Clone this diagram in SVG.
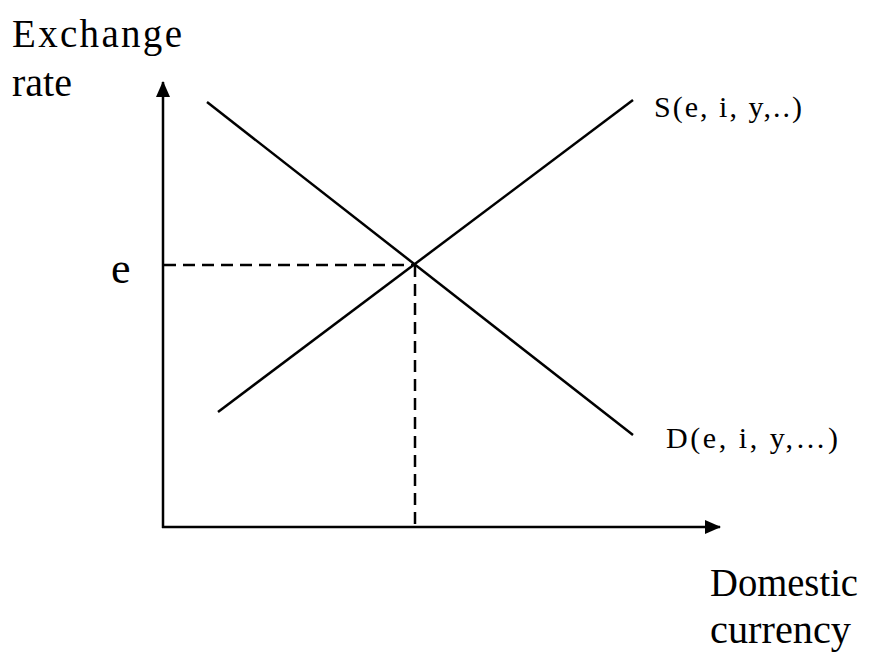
<svg xmlns="http://www.w3.org/2000/svg" width="878" height="662" viewBox="0 0 878 662">
<style>
.t{font-family:"Liberation Serif","Times New Roman",serif;fill:#000}
.ln{stroke:#000;stroke-width:2.5;fill:none}
.d{stroke:#000;stroke-width:2.5;fill:none;stroke-dasharray:12,7}
</style>
<defs>
<marker id="ah" markerWidth="16" markerHeight="14" refX="15" refY="7" orient="auto" markerUnits="userSpaceOnUse" viewBox="0 0 16 14">
<path d="M0,0 L16,7 L0,14 Z" fill="#000"/>
</marker>
</defs>
<rect width="878" height="662" fill="#fff"/>
<g id="connectors">
<line id="y-axis" class="ln" x1="163" y1="528" x2="163" y2="82" marker-end="url(#ah)"/>
<line id="x-axis" class="ln" x1="162" y1="527" x2="720" y2="527" marker-end="url(#ah)"/>
<line id="demand" class="ln" x1="207" y1="102" x2="633" y2="435"/>
<line id="supply" class="ln" x1="218" y1="412" x2="633" y2="100"/>
<line id="e-dash" class="d" x1="164" y1="265" x2="415" y2="265"/>
<line id="q-dash" class="d" x1="415" y1="265" x2="415" y2="526"/>
</g>
<g id="label-exchange"><text class="t" x="12" y="47" font-size="39" textLength="170" lengthAdjust="spacing">Exchange</text>
<text class="t" x="12" y="96" font-size="39" textLength="60" lengthAdjust="spacingAndGlyphs">rate</text></g>
<g id="label-e"><text class="t" x="111" y="283" font-size="44">e</text></g>
<g id="label-s"><text class="t" x="654" y="117" font-size="30" textLength="148" lengthAdjust="spacing">S(e, i, y,..)</text></g>
<g id="label-d"><text class="t" x="666" y="448" font-size="30" textLength="172" lengthAdjust="spacing">D(e, i, y,…)</text></g>
<g id="label-domestic"><text class="t" x="710" y="596" font-size="39" textLength="148" lengthAdjust="spacingAndGlyphs">Domestic</text>
<text class="t" x="710" y="643" font-size="39" textLength="141" lengthAdjust="spacingAndGlyphs">currency</text></g>
</svg>
